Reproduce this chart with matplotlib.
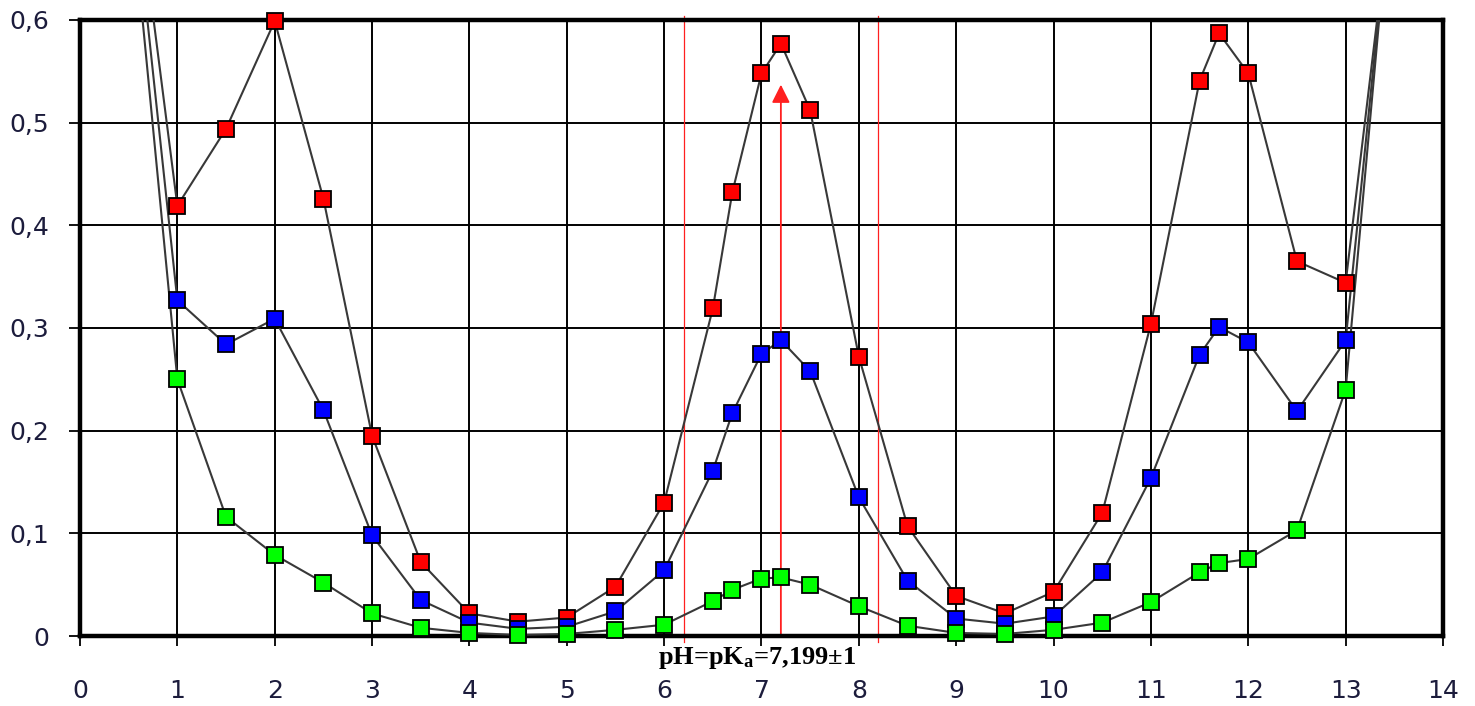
import numpy as np
import matplotlib
matplotlib.use("Agg")
import matplotlib.pyplot as plt

# ---- data ----
ph = [0.5, 1, 1.5, 2, 2.5, 3, 3.5, 4, 4.5, 5, 5.5, 6, 6.5, 6.7, 7, 7.2, 7.5,
      8, 8.5, 9, 9.5, 10, 10.5, 11, 11.5, 11.7, 12, 12.5, 13, 13.5]
red_series = [0.79, 0.419, 0.494, 0.599, 0.426, 0.195, 0.072, 0.022, 0.014, 0.018,
              0.048, 0.130, 0.319, 0.432, 0.548, 0.577, 0.512, 0.272, 0.107, 0.039,
              0.022, 0.043, 0.120, 0.304, 0.541, 0.587, 0.548, 0.365, 0.344, 0.74]
blue_series = [0.77, 0.327, 0.284, 0.309, 0.220, 0.098, 0.035, 0.013, 0.007, 0.009,
               0.024, 0.064, 0.161, 0.217, 0.275, 0.288, 0.258, 0.135, 0.054, 0.017,
               0.012, 0.019, 0.062, 0.154, 0.274, 0.301, 0.286, 0.219, 0.288, 0.755]
green_series = [0.74, 0.250, 0.116, 0.079, 0.052, 0.022, 0.008, 0.003, 0.001, 0.002,
                0.006, 0.011, 0.034, 0.045, 0.056, 0.057, 0.050, 0.029, 0.010, 0.003,
                0.002, 0.006, 0.013, 0.033, 0.062, 0.071, 0.075, 0.103, 0.240, 0.763]
x_ticks = list(range(0, 15))
y_ticks = [0, 0.1, 0.2, 0.3, 0.4, 0.5, 0.6]
y_tick_labels = ["0", "0,1", "0,2", "0,3", "0,4", "0,5", "0,6"]
pka = 7.199
pka_label = r"pH=pK$_{\mathbf{a}}$=7,199±1"

plt.rcParams['mathtext.fontset'] = 'custom'
plt.rcParams['mathtext.rm'] = 'Liberation Serif:bold'
plt.rcParams['mathtext.it'] = 'Liberation Serif:bold'
plt.rcParams['mathtext.bf'] = 'Liberation Serif:bold'

fig = plt.figure(figsize=(14.75, 7.06), dpi=100)
ax = fig.add_axes([80/1475, 1-636/706, (1443-80)/1475, (636-20)/706])

ax.set_xlim(0, 14)
ax.set_ylim(0, 0.6)
ax.set_xticks(x_ticks)
ax.set_xticklabels([str(t) for t in x_ticks])
ax.set_yticks(y_ticks)
ax.set_yticklabels(y_tick_labels)
ax.grid(True, color='black', linewidth=1.4, zorder=0)
ax.set_axisbelow(True)

for s in ax.spines.values():
    s.set_linewidth(3.2)
    s.set_color('black')

ax.tick_params(axis='x', direction='out', length=7, width=1.3, pad=24,
               labelsize=18, labelcolor='#1c1c3c')
ax.tick_params(axis='y', direction='out', length=8, width=1.3, pad=14,
               labelsize=18, labelcolor='#1c1c3c')

# red guide lines
for xv in (pka - 1, pka + 1):
    ax.plot([xv, xv], [-0.006, 0.604], color='#ff2020', lw=0.9, clip_on=False, zorder=2)
ax.annotate('', xy=(pka, 0.537), xytext=(pka, 0.0),
            arrowprops=dict(arrowstyle='-|>,head_length=1.1,head_width=0.55',
                            color='#ff2020', lw=1.3, shrinkA=0, shrinkB=0,
                            mutation_scale=10), zorder=2)

xarr = np.array(ph)
for ys, col in ((red_series, '#ff0000'), (blue_series, '#0000ff'), (green_series, '#00ff00')):
    yarr = np.array(ys)
    ax.plot(xarr, yarr, color='#383838', lw=1.5, zorder=3)
    m = yarr <= 0.6
    ax.plot(xarr[m], yarr[m], ls='none', marker='s', markersize=11,
            markerfacecolor=col, markeredgecolor='black', markeredgewidth=1.3,
            clip_on=False, zorder=4)

ax.text(6.95, -0.021, pka_label, ha='center', va='center', fontsize=19,
        family='Liberation Serif', fontweight='bold', color='black', clip_on=False)

fig.savefig('out.png', dpi=100)
